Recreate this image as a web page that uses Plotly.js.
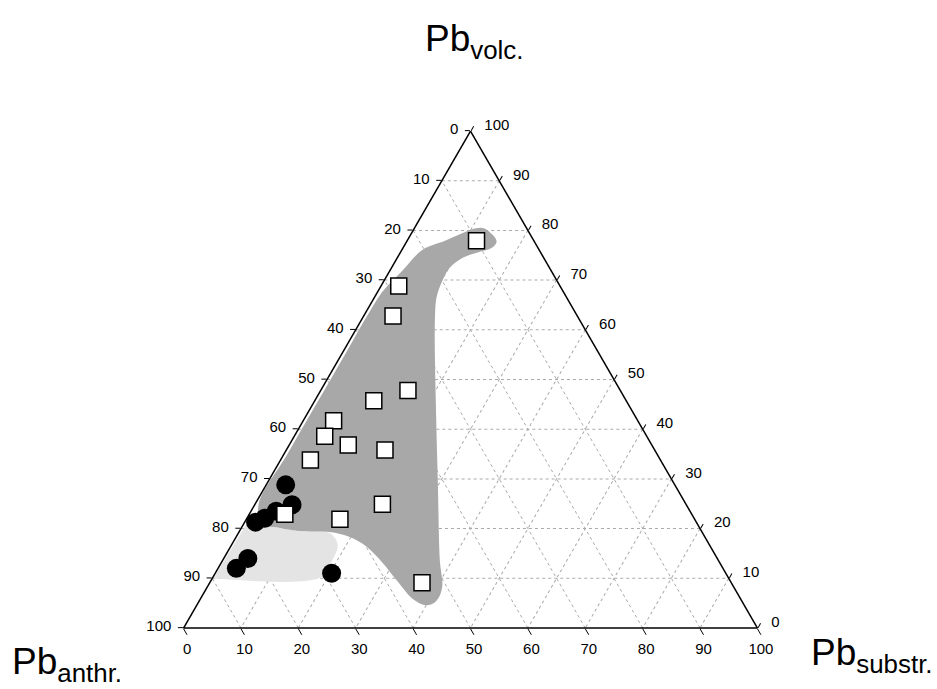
<!DOCTYPE html>
<html>
<head>
<meta charset="utf-8">
<script src="https://cdn.plot.ly/plotly-3.0.1.min.js"></script>
<style>html,body{margin:0;padding:0;background:#fff;}#chart{width:937px;height:689px;}</style>
</head>
<body>
<div id="chart"></div>
<script>
// Squares (values in %): Pb volc. and Pb substr. ; Pb anthr. = 100 - volc - substr
const volcSquares   = [77.9, 68.8, 62.8, 47.8, 45.7, 41.7, 38.6, 36.8, 35.8, 33.8, 24.9, 21.9, 22.9, 9.1];
const substrSquares = [12.1, 3.1, 5.1, 15.2, 10.3, 5.3, 5.3, 10.3, 17.2, 5.2, 22.2, 16.3, 6.2, 37.0];
// Circles
const volcCircles   = [28.8, 24.8, 23.5, 22.1, 21.3, 14.0, 12.0, 11.0];
const substrCircles = [3.4, 6.5, 4.4, 3.1, 1.9, 4.2, 3.2, 20.3];
// Dark shaded field outline
const volcDarkField   = [80.1, 80.5, 79.1, 77.7, 76.5, 75.7, 74.5, 72.4, 69.6, 66.6, 62.0, 45.9, 29.8, 13.7, 8.1, 5.4, 4.6, 6.0, 9.3, 13.3, 16.5, 18.3, 19.3, 19.5, 20.3, 20.9, 25, 35, 45, 55, 64, 68, 72, 76.1, 77.7];
const substrDarkField = [9.8, 11.9, 14.3, 15.7, 15.5, 13.8, 11.4, 10.1, 10.2, 10.8, 12.8, 21.0, 29.4, 37.8, 41.0, 41.3, 39.9, 36.8, 32.7, 27.9, 23.5, 19.8, 15.8, 10.5, 5.7, 3.1, 0.6, 0.6, 0.6, 0.6, 0.6, 0.9, 2.2, 3.6, 6.3];
// Light shaded field outline
const volcLightField   = [21.5, 20.9, 19.5, 19.1, 16.7, 12.7, 10.1, 10.0];
const substrLightField = [0.5, 3.1, 10.5, 15.9, 18.5, 19.1, 18.7, 0.2];
// Ticks
const tickValues = [0, 10, 20, 30, 40, 50, 60, 70, 80, 90, 100];
const tickLabels = tickValues.map(v => String(100 - v));

const anthr = (v, s) => v.map((x, i) => 100 - x - s[i]);
const NB = '\u00a0';

const traces = [
  {type: 'scatterternary', mode: 'lines', a: volcLightField, b: anthr(volcLightField, substrLightField), c: substrLightField,
   fill: 'toself', fillcolor: '#e4e4e4', line: {width: 0, shape: 'spline'}, hoverinfo: 'skip'},
  {type: 'scatterternary', mode: 'lines', a: volcDarkField, b: anthr(volcDarkField, substrDarkField), c: substrDarkField,
   fill: 'toself', fillcolor: '#a8a8a8', line: {width: 0, shape: 'spline'}, hoverinfo: 'skip'},
  {type: 'scatterternary', mode: 'markers', a: volcCircles, b: anthr(volcCircles, substrCircles), c: substrCircles,
   marker: {symbol: 'circle', size: 19, color: '#000', line: {width: 0}}},
  {type: 'scatterternary', mode: 'markers', a: volcSquares, b: anthr(volcSquares, substrSquares), c: substrSquares,
   marker: {symbol: 'square', size: 16, color: '#fff', line: {width: 1.5, color: '#000'}}}
];

const axisStyle = {
  tickvals: tickValues, tickmode: 'array',
  ticks: 'outside', ticklen: 5, tickcolor: '#000',
  linecolor: '#000', linewidth: 1.5, showline: true,
  showgrid: true, gridcolor: '#aaaaaa', gridwidth: 1, griddash: 'dot',
  tickfont: {family: 'Liberation Sans, Arial, sans-serif', size: 15, color: '#000'},
  title: {text: ''}
};

const layout = {
  width: 937, height: 689,
  margin: {l: 0, r: 0, t: 0, b: 0},
  paper_bgcolor: '#fff',
  showlegend: false,
  font: {family: 'Liberation Sans, Arial, sans-serif', color: '#000'},
  ternary: {
    sum: 100,
    domain: {x: [(470.5 - 420) / 937, (470.5 + 420) / 937], y: [(689 - 628) / 689, (689 - 131) / 689]},
    bgcolor: '#fff',
    aaxis: Object.assign({}, axisStyle, {ticktext: tickLabels.map(t => t + NB)}),
    baxis: Object.assign({}, axisStyle, {ticktext: tickLabels, ticklen: 7}),
    caxis: Object.assign({}, axisStyle, {ticktext: tickLabels.map(t => NB + NB + t)})
  },
  annotations: [
    {xref: 'paper', yref: 'paper', x: 474 / 937, y: 1 - 16 / 689, xanchor: 'center', yanchor: 'top', showarrow: false,
     text: 'Pb<sub>volc.</sub>', font: {size: 37}},
    {xref: 'paper', yref: 'paper', x: 10 / 937, y: 0, xanchor: 'left', yanchor: 'bottom', showarrow: false,
     text: 'Pb<sub>anthr.</sub>', font: {size: 37}},
    {xref: 'paper', yref: 'paper', x: 809 / 937, y: 9 / 689, xanchor: 'left', yanchor: 'bottom', showarrow: false,
     text: 'Pb<sub>substr.</sub>', font: {size: 37}}
  ]
};

Plotly.newPlot('chart', traces, layout, {displayModeBar: false, staticPlot: true});
</script>
</body>
</html>
